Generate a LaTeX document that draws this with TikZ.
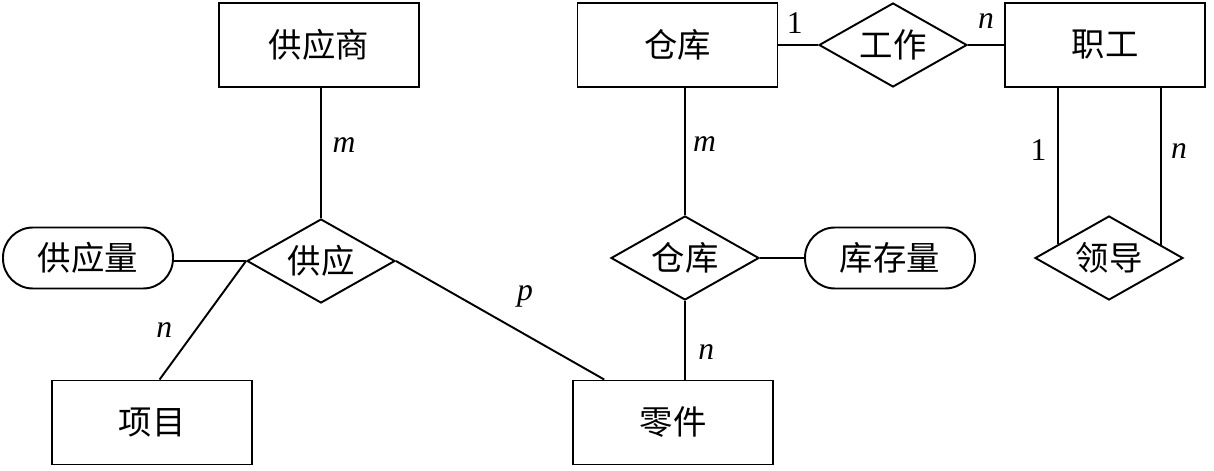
\documentclass[tikz,border=0pt]{standalone}
\usepackage{fontspec}
\setmainfont{Liberation Serif}
\newfontfamily\cjk{Noto Sans CJK SC}
\usetikzlibrary{shapes.geometric}

\begin{document}
\begin{tikzpicture}[line width=1.1pt,
  zh/.style={font=\cjk\fontsize{19}{22}\selectfont},
  ent/.style={zh,draw,minimum width=4cm,minimum height=1.68cm,inner sep=0pt},
  rel/.style={zh,draw,diamond,aspect=1.76,minimum width=2.96cm,minimum height=1.68cm,inner sep=0pt},
  attr/.style={zh,draw,rounded corners=0.6cm,minimum width=3.4cm,minimum height=1.22cm,inner sep=0pt},
  lbl/.style={inner sep=1pt,font=\fontsize{18}{20}\selectfont}]
\useasboundingbox (0,0) rectangle (24.28,9.4);
% entities
\node[ent] (gys) at (6.38,8.5) {供应商};
\node[ent] (ck) at (13.55,8.5) {仓库};
\node[ent] (zg) at (22.1,8.5) {职工};
\node[ent] (xm) at (3.04,0.95) {项目};
\node[ent] (lj) at (13.46,0.95) {零件};
% relationships
\node[rel] (gz) at (17.86,8.5) {工作};
\node[rel] (gy) at (6.42,4.18) {供应};
\node[rel] (ckd) at (13.7,4.24) {仓库};
\node[rel] (ld) at (22.18,4.24) {领导};
% attributes
\node[attr] (gyl) at (1.76,4.24) {供应量};
\node[attr] (kcl) at (17.8,4.24) {库存量};
% connectors
\draw (gy.north |- gys.south) -- (gy.north) node[lbl,pos=0.44,right=5pt]{\textit{m}};
\draw (gy.west) -- (gy.west -| gyl.east);
\draw (gy.west) -- (xm.80) node[lbl,pos=0.58,left=12pt]{\textit{n}};
\draw (gy.east) -- (lj.148) node[lbl,pos=0.62,above=14pt]{\textit{p}};
\draw (ckd.north |- ck.south) -- (ckd.north) node[lbl,pos=0.44,right=3pt]{\textit{m}};
\draw (ckd.south) -- (ckd.south |- lj.north) node[lbl,pos=0.65,right=6pt]{\textit{n}};
\draw (ckd.east) -- (kcl.west);
\draw (ck.east) -- (gz.west) node[lbl,pos=0.41,above=5pt]{1};
\draw (gz.east) -- (zg.west) node[lbl,pos=0.5,above=8pt]{\textit{n}};
\draw (ld.165 |- zg.south) -- (ld.165) node[lbl,pos=0.4,left=5pt]{1};
\draw (ld.14 |- zg.south) -- (ld.14) node[lbl,pos=0.4,right=4pt]{\textit{n}};
\end{tikzpicture}
\end{document}
